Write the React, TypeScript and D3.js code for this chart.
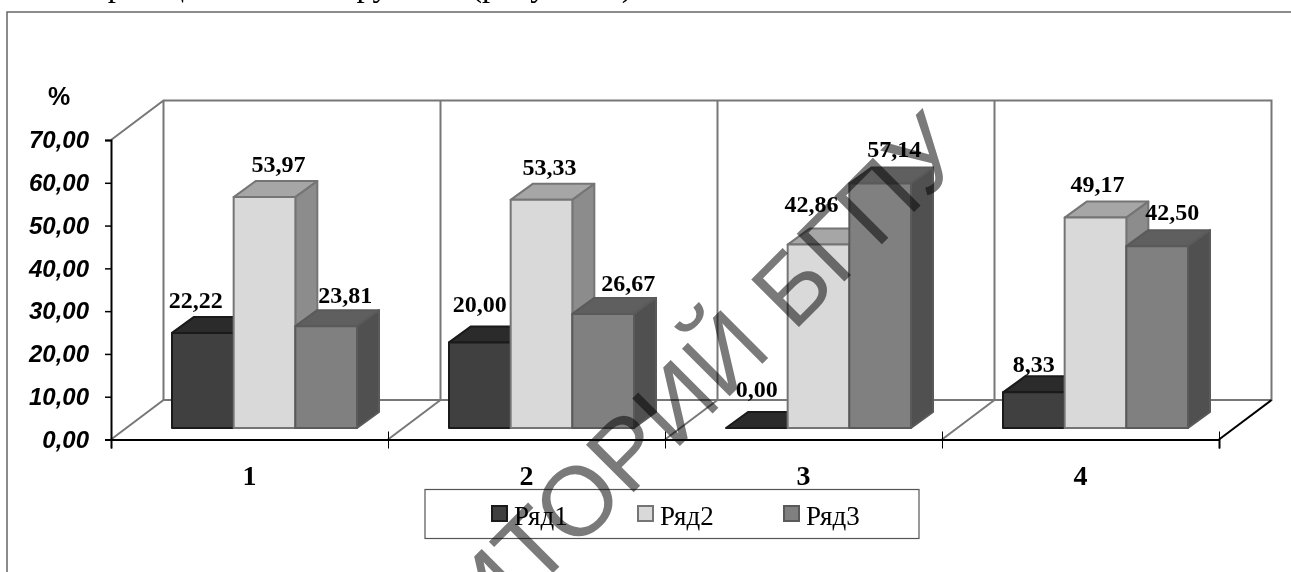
import React, { useRef, useEffect } from 'react';
import * as d3 from 'd3';

const categories = ['1', '2', '3', '4'];
const seriesNames = ['Ряд1', 'Ряд2', 'Ряд3'];
const row1 = [22.22, 20.0, 0.0, 8.33];
const row2 = [53.97, 53.33, 42.86, 49.17];
const row3 = [23.81, 26.67, 57.14, 42.5];
const seriesValues = [row1, row2, row3];
const yTicks = [0, 10, 20, 30, 40, 50, 60, 70];

// hand placed data labels in the original, [dx, dy] from bar centre / bar top
const labelNudges = [
    [[-7, -25], [0, -30], [0, -31], [0, -20]],
    [[14, -25], [8, -25], [-7, -33], [2, -26]],
    [[19, -23], [25, -23], [14, -27], [15, -26]],
];

const shades = [
    { front: '#404040', top: '#2b2b2b', side: '#2b2b2b', stroke: '#1a1a1a' },
    { front: '#d9d9d9', top: '#a6a6a6', side: '#8c8c8c', stroke: '#757575' },
    { front: '#808080', top: '#5f5f5f', side: '#505050', stroke: '#5a5a5a' },
];

// line of page text above the figure, only its descenders are in the crop
const pageWords = ['при оценке всех', 'групп', '(рисунок 1)'];
const pageWordX = [90, 343, 471];

const fmt = (d: number) => d.toFixed(2).replace('.', ',');
const SERIF = '"Liberation Serif", serif';
const SANS = '"Liberation Sans", sans-serif';

export default function App() {
    const svgRef = useRef<SVGSVGElement>(null);

    useEffect(() => {
        if (!svgRef.current) return;
        const width = 1291;
        const height = 572;
        const svg = d3.select(svgRef.current);
        svg.selectAll('*').remove();

        // 3d frame: front plane and the offset to the back wall
        const left = 111;
        const right = 1219;
        const bottom = 439.5;
        const top = 140;
        const wallDx = 52.5;
        const wallDy = -39.5;
        const barBase = -11.5; // bars stand a bit behind the front edge
        const depthX = 22;
        const depthY = -16;

        const x = d3.scaleBand<string>().domain(categories).range([left, right]);
        const xEdge = d3.scaleLinear().domain([0, categories.length]).range([left, right]);
        const inner = d3.scaleBand<string>().domain(seriesNames).range([61, 246]);
        const y = d3.scaleLinear().domain([0, 70]).range([bottom, top]);

        svg.append('g').selectAll('text').data(pageWords).join('text')
            .attr('x', (_, i) => pageWordX[i])
            .attr('y', -4)
            .attr('font-family', SERIF)
            .attr('font-size', 33)
            .attr('fill', '#000')
            .text(d => d);

        svg.append('path')
            .attr('d', `M7,${height} V12 H${width}`)
            .attr('fill', 'none')
            .attr('stroke', '#666')
            .attr('stroke-width', 1.5);

        // walls and floor
        const grid = svg.append('g').attr('fill', 'none').attr('stroke', '#777').attr('stroke-width', 2);
        grid.append('path').attr('d', `M${left},${top} L${left + wallDx},${top + wallDy} H${right + wallDx} V${bottom + wallDy} H${left + wallDx} V${top + wallDy}`);
        d3.range(0, categories.length).forEach(i => {
            const ex = xEdge(i);
            grid.append('line')
                .attr('x1', ex).attr('y1', bottom)
                .attr('x2', ex + wallDx).attr('y2', bottom + wallDy);
            if (i > 0) {
                grid.append('line')
                    .attr('x1', ex + wallDx).attr('y1', top + wallDy)
                    .attr('x2', ex + wallDx).attr('y2', bottom + wallDy);
            }
        });
        svg.append('line')
            .attr('x1', right).attr('y1', bottom)
            .attr('x2', right + wallDx).attr('y2', bottom + wallDy)
            .attr('stroke', '#000').attr('stroke-width', 2);

        // bars, left to right so each one hides the side of the previous
        const barsGroup = svg.append('g').attr('stroke-linejoin', 'round');
        categories.forEach((cat, ci) => {
            seriesNames.forEach((name, si) => {
                const v = seriesValues[si][ci];
                const c = shades[si];
                const x0 = x(cat)! + inner(name)!;
                const x1 = x0 + inner.bandwidth();
                const base = bottom + barBase;
                const yTop = y(v) + barBase;
                const g = barsGroup.append('g').attr('stroke', c.stroke).attr('stroke-width', 2);
                g.append('path')
                    .attr('fill', c.top)
                    .attr('d', `M${x0},${yTop} L${x0 + depthX},${yTop + depthY} H${x1 + depthX} L${x1},${yTop} Z`);
                if (v > 0) {
                    g.append('path')
                        .attr('fill', c.side)
                        .attr('d', `M${x1},${yTop} L${x1 + depthX},${yTop + depthY} V${base + depthY} L${x1},${base} Z`);
                    g.append('rect')
                        .attr('x', x0)
                        .attr('y', yTop)
                        .attr('width', x1 - x0)
                        .attr('height', base - yTop)
                        .attr('fill', c.front);
                }
            });
        });

        // axes
        const yAxis = svg.append('g')
            .attr('transform', `translate(${left},0)`)
            .call(d3.axisLeft(y).tickValues(yTicks).tickFormat(d => fmt(+d)).tickSize(6).tickPadding(16));
        yAxis.select('.domain').attr('stroke', '#000').attr('stroke-width', 2);
        yAxis.selectAll('.tick line').attr('stroke', '#000').attr('stroke-width', 1.5);
        yAxis.selectAll('text')
            .attr('font-family', SANS)
            .attr('font-size', 24)
            .attr('font-weight', 'bold')
            .attr('font-style', 'italic')
            .attr('fill', '#000');

        const xAxis = svg.append('g')
            .attr('transform', `translate(0,${bottom})`)
            .call(d3.axisBottom(xEdge).tickValues(d3.range(0, categories.length + 1)).tickFormat(() => '').tickSize(9));
        xAxis.select('.domain').attr('stroke', '#000').attr('stroke-width', 2);
        xAxis.selectAll('.tick line').attr('y1', -8).attr('stroke', '#000').attr('stroke-width', 1);

        svg.append('g').selectAll('text').data(categories).join('text')
            .attr('x', d => x(d)! + x.bandwidth() / 2)
            .attr('y', 485)
            .attr('text-anchor', 'middle')
            .attr('font-family', SERIF)
            .attr('font-weight', 'bold')
            .attr('font-size', 28)
            .text(d => d);

        svg.append('text')
            .attr('x', 59)
            .attr('y', 105)
            .attr('text-anchor', 'middle')
            .attr('font-family', SANS)
            .attr('font-weight', 'bold')
            .attr('font-size', 25)
            .text('%');

        // data labels
        categories.forEach((cat, ci) => {
            seriesNames.forEach((name, si) => {
                const v = seriesValues[si][ci];
                const [dx, dy] = labelNudges[si][ci];
                svg.append('text')
                    .attr('x', x(cat)! + inner(name)! + inner.bandwidth() / 2 + dx)
                    .attr('y', y(v) + barBase + dy)
                    .attr('text-anchor', 'middle')
                    .attr('font-family', SERIF)
                    .attr('font-weight', 'bold')
                    .attr('font-size', 24)
                    .text(fmt(v));
            });
        });

        // legend
        const legend = svg.append('g');
        legend.append('rect')
            .attr('x', 425).attr('y', 489.5)
            .attr('width', 494).attr('height', 49)
            .attr('fill', '#fff').attr('stroke', '#555').attr('stroke-width', 1.2);
        const legendX = d3.scalePoint<string>().domain(seriesNames).range([492, 784]);
        seriesNames.forEach((name, si) => {
            legend.append('rect')
                .attr('x', legendX(name)!).attr('y', 506)
                .attr('width', 15).attr('height', 15)
                .attr('fill', shades[si].front)
                .attr('stroke', shades[si].stroke)
                .attr('stroke-width', 2);
            legend.append('text')
                .attr('x', legendX(name)! + 22)
                .attr('y', 525)
                .attr('font-family', SERIF)
                .attr('font-size', 27)
                .text(name);
        });

        // repository watermark over everything
        svg.append('text')
            .attr('transform', 'translate(970,156) rotate(-45)')
            .attr('text-anchor', 'end')
            .attr('font-family', SANS)
            .attr('font-size', 98)
            .attr('fill', '#7a7a7a')
            .style('mix-blend-mode', 'multiply')
            .text('РЕПОЗИТОРИЙ БГПУ');
    }, []);

    return (
        <svg
            ref={svgRef}
            width={1291}
            height={572}
            viewBox="0 0 1291 572"
            style={{ position: 'fixed', left: 0, top: 0, background: '#fff' }}
        />
    );
}
